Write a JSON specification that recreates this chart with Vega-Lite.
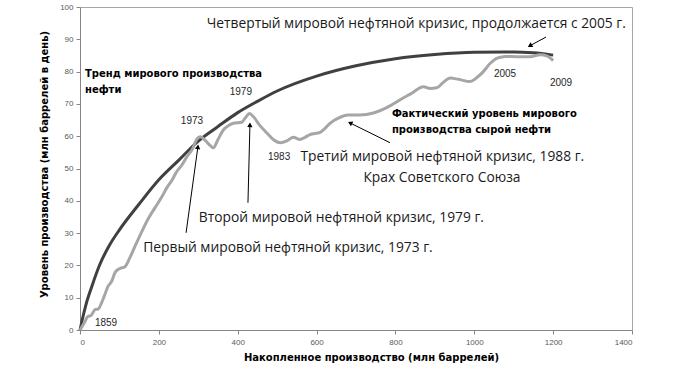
{
  "$schema": "https://vega.github.io/schema/vega-lite/v6.json",
  "width": 552,
  "height": 323,
  "autosize": {"type": "none"},
  "padding": {"left": 80, "top": 7, "right": 68, "bottom": 39},
  "background": "white",
  "config": {
    "view": {"stroke": "#a6a6a6", "strokeWidth": 1},
    "axis": {
      "grid": false,
      "domainColor": "#868686",
      "tickColor": "#868686",
      "tickSize": 4,
      "labelFont": "Liberation Sans",
      "labelFontSize": 8,
      "labelColor": "#595959",
      "labelOverlap": false,
      "titleFont": "DejaVu Sans",
      "titleFontWeight": "bold",
      "titleFontSize": 10,
      "titleColor": "#000000"
    }
  },
  "datasets": {
    "trend": [
      {"x": 0, "y": 0}, {"x": 5, "y": 2.8}, {"x": 15, "y": 7.8}, {"x": 30, "y": 13.5},
      {"x": 50, "y": 20.2}, {"x": 75, "y": 26.3}, {"x": 100, "y": 31}, {"x": 150, "y": 39},
      {"x": 200, "y": 46.5}, {"x": 250, "y": 52.5}, {"x": 300, "y": 58.5}, {"x": 350, "y": 63},
      {"x": 400, "y": 67.3}, {"x": 450, "y": 70.8}, {"x": 500, "y": 74}, {"x": 600, "y": 78.6},
      {"x": 700, "y": 81.8}, {"x": 800, "y": 84}, {"x": 900, "y": 85.3}, {"x": 1000, "y": 86},
      {"x": 1100, "y": 86.1}, {"x": 1150, "y": 85.8}, {"x": 1200, "y": 85.1}
    ],
    "actual": [
      {"x": 0, "y": 0}, {"x": 5, "y": 1}, {"x": 12, "y": 2.5}, {"x": 20, "y": 4.2},
      {"x": 28, "y": 4.5}, {"x": 38, "y": 6.3}, {"x": 46, "y": 6.5}, {"x": 55, "y": 8.5},
      {"x": 63, "y": 11}, {"x": 71, "y": 13.5}, {"x": 80, "y": 15}, {"x": 89, "y": 17.8},
      {"x": 100, "y": 19}, {"x": 114, "y": 19.6}, {"x": 125, "y": 22}, {"x": 139, "y": 25.8},
      {"x": 155, "y": 30}, {"x": 172, "y": 34.2}, {"x": 190, "y": 37.8}, {"x": 208, "y": 41.3},
      {"x": 220, "y": 44}, {"x": 234, "y": 46.5}, {"x": 245, "y": 49}, {"x": 258, "y": 51},
      {"x": 271, "y": 53.6}, {"x": 285, "y": 56}, {"x": 296, "y": 59}, {"x": 305, "y": 59.8},
      {"x": 315, "y": 59}, {"x": 327, "y": 57.5}, {"x": 338, "y": 56.4}, {"x": 350, "y": 59},
      {"x": 364, "y": 62}, {"x": 378, "y": 63.4}, {"x": 389, "y": 64}, {"x": 410, "y": 64.3},
      {"x": 420, "y": 65.8}, {"x": 430, "y": 67}, {"x": 440, "y": 66}, {"x": 455, "y": 63.5},
      {"x": 474, "y": 61}, {"x": 490, "y": 59}, {"x": 508, "y": 58}, {"x": 525, "y": 58.6},
      {"x": 541, "y": 59.7}, {"x": 558, "y": 59}, {"x": 570, "y": 59.6}, {"x": 583, "y": 60.5},
      {"x": 609, "y": 61.2}, {"x": 622, "y": 62.5}, {"x": 634, "y": 64}, {"x": 655, "y": 65.6},
      {"x": 680, "y": 66.6}, {"x": 710, "y": 66.6}, {"x": 744, "y": 67.2}, {"x": 780, "y": 69},
      {"x": 812, "y": 71.3}, {"x": 840, "y": 73.2}, {"x": 871, "y": 75.3}, {"x": 888, "y": 74.8},
      {"x": 905, "y": 75}, {"x": 920, "y": 76.5}, {"x": 939, "y": 78}, {"x": 960, "y": 77.6},
      {"x": 990, "y": 76.9}, {"x": 1005, "y": 78}, {"x": 1023, "y": 80}, {"x": 1040, "y": 82.5},
      {"x": 1058, "y": 84.2}, {"x": 1080, "y": 84.7}, {"x": 1108, "y": 84.6}, {"x": 1141, "y": 84.6},
      {"x": 1167, "y": 85.2}, {"x": 1185, "y": 84.8}, {"x": 1200, "y": 83.4}
    ],
    "arrows": [
      {"x": 269, "y": 30.1, "x2": 299, "y2": 56.7},
      {"x": 426, "y": 39.4, "x2": 431, "y2": 63.5},
      {"x": 786, "y": 58.0, "x2": 685, "y2": 64.1},
      {"x": 1182, "y": 90.7, "x2": 1141, "y2": 88.0}
    ],
    "heads": [
      {"x": 299, "y": 56.7, "angle": 8},
      {"x": 431, "y": 63.5, "angle": 1.5},
      {"x": 685, "y": 64.1, "angle": 296.6},
      {"x": 1141, "y": 88.0, "angle": 240.6}
    ],
    "bigText": [
      {"x": 853, "y": 94.7, "t": "Четвертый мировой нефтяной кризис, продолжается с 2005 г."},
      {"x": 919, "y": 53.6, "t": "Третий мировой нефтяной кризис, 1988 г."},
      {"x": 918, "y": 47.1, "t": "Крах Советского Союза"},
      {"x": 663, "y": 34.8, "t": "Второй мировой нефтяной кризис, 1979 г."},
      {"x": 527.5, "y": 25.5, "t": "Первый мировой нефтяной кризис, 1973 г."}
    ],
    "boldText": [
      {"x": 12.7, "y": 79.3, "t": "Тренд мирового производства"},
      {"x": 12.7, "y": 74.3, "t": "нефти"},
      {"x": 791, "y": 66.9, "t": "Фактический уровень мирового"},
      {"x": 791, "y": 62.0, "t": "производства сырой нефти"}
    ],
    "years": [
      {"x": 408, "y": 73.7, "t": "1979"},
      {"x": 284, "y": 64.8, "t": "1973"},
      {"x": 505, "y": 53.6, "t": "1983"},
      {"x": 1078, "y": 79.3, "t": "2005"},
      {"x": 1220, "y": 76.5, "t": "2009"},
      {"x": 66, "y": 2.3, "t": "1859"}
    ]
  },
  "encoding": {
    "x": {"field": "x", "type": "quantitative", "scale": {"domain": [0, 1400]},
          "axis": {"values": [0, 200, 400, 600, 800, 1000, 1200, 1400], "format": "d", "title": "Накопленное производство (млн баррелей)", "titlePadding": 6, "labelPadding": 4, "titleX": 291, "titleAlign": "center"}},
    "y": {"field": "y", "type": "quantitative", "scale": {"domain": [0, 100]},
          "axis": {"values": [0, 10, 20, 30, 40, 50, 60, 70, 80, 90, 100], "format": "d", "title": "Уровень производства (млн баррелей в день)", "titlePadding": 10, "labelPadding": 3, "titleY": 157, "titleAlign": "center"}}
  },
  "layer": [
    {
      "data": {"name": "trend"},
      "mark": {"type": "line", "color": "#404040", "strokeWidth": 3, "interpolate": "monotone"}
    },
    {
      "data": {"name": "actual"},
      "mark": {"type": "line", "color": "#a6a6a6", "strokeWidth": 3, "interpolate": "monotone"}
    },
    {
      "data": {"name": "arrows"},
      "mark": {"type": "rule", "color": "#000000", "strokeWidth": 1},
      "encoding": {
        "x2": {"field": "x2"},
        "y2": {"field": "y2"}
      }
    },
    {
      "data": {"name": "heads"},
      "mark": {"type": "point", "shape": "triangle-up", "filled": true, "color": "#000000", "size": 28, "opacity": 1},
      "encoding": {
        "angle": {"field": "angle", "type": "quantitative", "scale": null}
      }
    },
    {
      "data": {"name": "bigText"},
      "mark": {"type": "text", "font": "Open Sans", "fontSize": 13.8, "color": "#1a1a1a", "align": "center", "baseline": "middle"},
      "encoding": {
        "text": {"field": "t"}
      }
    },
    {
      "data": {"name": "boldText"},
      "mark": {"type": "text", "font": "DejaVu Sans", "fontWeight": "bold", "fontSize": 10, "color": "#000000", "align": "left", "baseline": "middle"},
      "encoding": {
        "text": {"field": "t"}
      }
    },
    {
      "data": {"name": "years"},
      "mark": {"type": "text", "font": "Liberation Sans", "fontSize": 10, "color": "#262626", "align": "center", "baseline": "middle"},
      "encoding": {
        "text": {"field": "t"}
      }
    }
  ]
}
